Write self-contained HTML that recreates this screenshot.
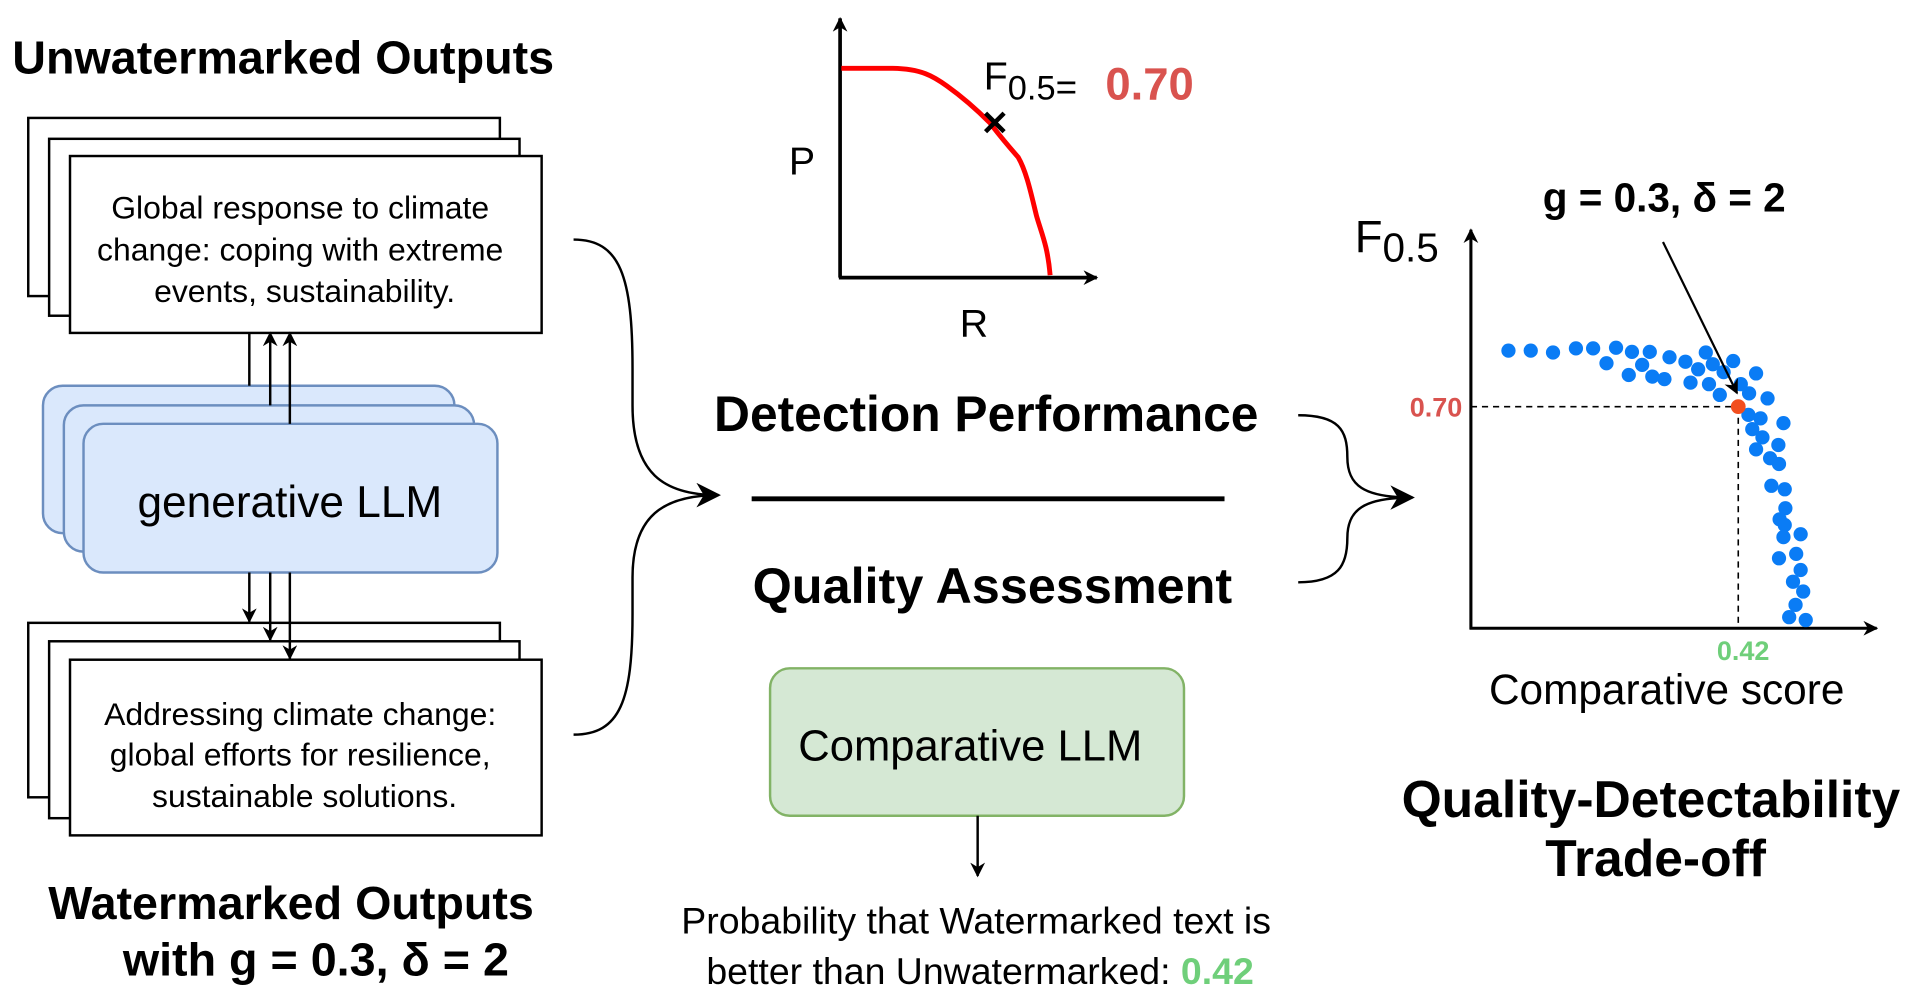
<!DOCTYPE html>
<html><head><meta charset="utf-8"><style>
html,body{margin:0;padding:0;background:#fff;}
svg{display:block;}
text{font-family:"Liberation Sans",Arial,sans-serif;}
</style></head><body>
<svg id="fig" width="1916" height="1000" viewBox="0 0 1560 814" preserveAspectRatio="none" xmlns="http://www.w3.org/2000/svg">
<defs>
<marker id="ahs" viewBox="0 0 10 10" refX="9" refY="5" markerWidth="12" markerHeight="12" orient="auto" markerUnits="userSpaceOnUse"><path d="M0,0 L10,5 L0,10 L3,5 z" fill="#000"/></marker>
<marker id="ahb" viewBox="0 0 10 10" refX="9" refY="5" markerWidth="20" markerHeight="20" orient="auto" markerUnits="userSpaceOnUse"><path d="M0,0 L10,5 L0,10 L3,5 z" fill="#000"/></marker>
</defs>

<text x="10" y="60" font-size="38" font-weight="bold">Unwatermarked Outputs</text>
<g fill="#fff" stroke="#000" stroke-width="2">
<rect x="23" y="96" width="384" height="145"/>
<rect x="40" y="113" width="383" height="144"/>
<rect x="57" y="127" width="384" height="144"/>
</g>
<text font-size="26" text-anchor="middle">
<tspan x="248" y="178">Global response to climate</tspan>
<tspan x="248" y="212">change: coping with extreme</tspan>
<tspan x="248" y="246">events, sustainability.</tspan></text>

<g fill="#dae8fc" stroke="#6c8ebf" stroke-width="2">
<rect x="35" y="314" width="335" height="120" rx="16"/>
<rect x="52" y="330" width="334" height="119" rx="16"/>
<rect x="68" y="345" width="337" height="121" rx="16"/>
</g>
<text x="236" y="421" font-size="36" text-anchor="middle">generative LLM</text>

<g fill="#fff" stroke="#000" stroke-width="2">
<rect x="23" y="507" width="384" height="142"/>
<rect x="40" y="522" width="383" height="144"/>
<rect x="57" y="537" width="384" height="143"/>
</g>
<text font-size="26" text-anchor="middle">
<tspan x="248" y="590">Addressing climate change:</tspan>
<tspan x="248" y="623">global efforts for resilience,</tspan>
<tspan x="248" y="657">sustainable solutions.</tspan></text>

<g stroke="#000" stroke-width="2" fill="none">
<line x1="203" y1="314" x2="203" y2="271"/>
<line x1="220" y1="330" x2="220" y2="271" marker-end="url(#ahs)"/>
<line x1="236" y1="345" x2="236" y2="271" marker-end="url(#ahs)"/>
<line x1="203" y1="466" x2="203" y2="506" marker-end="url(#ahs)"/>
<line x1="220" y1="466" x2="220" y2="521" marker-end="url(#ahs)"/>
<line x1="236" y1="466" x2="236" y2="536" marker-end="url(#ahs)"/>
</g>

<text x="237" y="748" font-size="38" font-weight="bold" text-anchor="middle">Watermarked Outputs</text>
<text x="100" y="794" font-size="38" font-weight="bold">with g = 0.3, δ = 2</text>

<g fill="none" stroke="#000" stroke-width="2">
<path d="M467,195 C505,195 515,225 515,300 L515,330 C515,385 540,403 585,403" marker-end="url(#ahb)"/>
<path d="M467,598 C505,598 515,570 515,500 L515,470 C515,420 540,403 585,403"/>
</g>

<g>
<line x1="684" y1="226" x2="684" y2="15" stroke="#000" stroke-width="3" marker-end="url(#ahs)"/>
<line x1="683" y1="226" x2="893" y2="226" stroke="#000" stroke-width="3" marker-end="url(#ahs)"/>
<path d="M685,55.6 L727,55.6 C750,56 760,62 771,70 C785,80 796,90 806,100 C815,112 822,120 829,128 C836,140 840,160 844,176 C848,190 853,200 855,224" fill="none" stroke="#f00" stroke-width="4"/>
<text x="810" y="110" font-size="28" font-weight="bold" text-anchor="middle">✕</text>
<text x="653" y="142" font-size="32" text-anchor="middle">P</text>
<text x="793" y="274" font-size="32" text-anchor="middle">R</text>
<text x="801" y="73" font-size="32">F<tspan font-size="28" dy="8">0.5</tspan><tspan font-size="30">=</tspan></text>
<text x="900" y="81" font-size="37" font-weight="bold" fill="#d9534f">0.70</text>
</g>

<text x="803" y="351" font-size="40.5" font-weight="bold" text-anchor="middle">Detection Performance</text>
<line x1="612" y1="406" x2="997" y2="406" stroke="#000" stroke-width="4"/>
<text x="808" y="491" font-size="41" font-weight="bold" text-anchor="middle">Quality Assessment</text>
<rect x="627" y="544" width="337" height="120" rx="16" fill="#d5e8d4" stroke="#82b366" stroke-width="2"/>
<text x="790" y="619" font-size="35.5" text-anchor="middle">Comparative LLM</text>
<line x1="796" y1="664" x2="796" y2="713" stroke="#000" stroke-width="2" marker-end="url(#ahs)"/>
<text font-size="30.5" text-anchor="middle">
<tspan x="799" y="760">Probability that Watermarked text is</tspan>
<tspan x="798" y="801">better than Unwatermarked: <tspan font-weight="bold" fill="#6fcf7a">0.42</tspan></tspan></text>

<g fill="none" stroke="#000" stroke-width="2">
<path d="M1057,338 C1090,338 1097,350 1097,372 C1097,395 1110,405 1150,405" marker-end="url(#ahb)"/>
<path d="M1057,474 C1090,474 1097,460 1097,438 C1097,415 1110,405 1150,405"/>
</g>

<g id="scatter"></g>
<text x="1355" y="172" font-size="33" font-weight="bold" text-anchor="middle">g = 0.3, δ = 2</text>
<text x="1103" y="205" font-size="37">F<tspan font-size="33" dy="8">0.5</tspan></text>
<text x="1357" y="573" font-size="34.5" text-anchor="middle">Comparative score</text>
<text font-size="42" font-weight="bold" text-anchor="middle">
<tspan x="1350" y="665">Quality-Detectability</tspan>
<tspan x="1348" y="713">Trade-off</tspan></text>
</svg>
<script>
const xValues = [0.059,0.094,0.129,0.165,0.192,0.228,0.253,0.281,0.213,0.269,0.248,0.285,0.304,0.312,0.337,0.357,0.369,0.380,0.397,0.412,0.345,0.374,0.391,0.424,0.437,0.448,0.466,0.436,0.455,0.491,0.442,0.458,0.483,0.448,0.470,0.484,0.472,0.493,0.494,0.485,0.493,0.491,0.518,0.484,0.511,0.518,0.506,0.522,0.510,0.500,0.526];
const yValues = [0.877,0.877,0.871,0.884,0.884,0.886,0.873,0.873,0.837,0.832,0.800,0.795,0.787,0.856,0.842,0.818,0.871,0.834,0.809,0.844,0.776,0.771,0.737,0.771,0.742,0.805,0.726,0.674,0.663,0.648,0.629,0.603,0.579,0.565,0.537,0.519,0.450,0.439,0.379,0.344,0.326,0.288,0.297,0.221,0.235,0.184,0.147,0.116,0.074,0.035,0.026];
const selectedX = [0.42];
const selectedY = [0.70];
const xTickLabels = ["0.42"];
const yTickLabels = ["0.70"];

const NS = "http://www.w3.org/2000/svg";
const g = document.getElementById('scatter');
const ox = 1197.6, oy = 511.4, kx = 518.3, ky = 257.7;
function sx(v){ return ox + v*kx; }
function sy(v){ return oy - v*ky; }
function mk(tag, attrs){ const e=document.createElementNS(NS,tag); for(const k in attrs) e.setAttribute(k,attrs[k]); g.appendChild(e); return e; }

const ya = mk('line',{x1:ox,y1:oy+1,x2:ox,y2:187,stroke:'#000','stroke-width':2.5,'marker-end':'url(#ahs)'});


const xa = mk('line',{x1:ox-1,y1:oy,x2:1528,y2:oy,stroke:'#000','stroke-width':2.5,'marker-end':'url(#ahs)'});



const hx = mk('line',{x1:ox,y1:sy(selectedY[0]),x2:sx(selectedX[0]),y2:sy(selectedY[0]),stroke:'#000','stroke-width':1.3,'stroke-dasharray':'5,4'});


const vx = mk('line',{x1:sx(selectedX[0]),y1:sy(selectedY[0]),x2:sx(selectedX[0]),y2:oy,stroke:'#000','stroke-width':1.3,'stroke-dasharray':'5,4'});



for(let i=0;i<xValues.length;i++){
  const c = mk('circle',{cx:sx(xValues[i]),cy:sy(yValues[i]),r:5.8,fill:'#0a7cf5'});
  
  
}
const rp = mk('circle',{cx:sx(selectedX[0]),cy:sy(selectedY[0]),r:6,fill:'#f24e1e'});



const ar = mk('line',{x1:1354,y1:197,x2:sx(selectedX[0])-1,y2:sy(selectedY[0])-11,stroke:'#000','stroke-width':1.8,'marker-end':'url(#ahs)'});



const yt = mk('text',{x:ox-7,y:sy(selectedY[0])+8,'font-size':22,'font-weight':'bold',fill:'#d9534f','text-anchor':'end'});
yt.textContent = yTickLabels[0];


const xt = mk('text',{x:sx(selectedX[0])+4,y:oy+26,'font-size':22,'font-weight':'bold',fill:'#6fcf7a','text-anchor':'middle'});
xt.textContent = xTickLabels[0];


</script>
</body></html>
